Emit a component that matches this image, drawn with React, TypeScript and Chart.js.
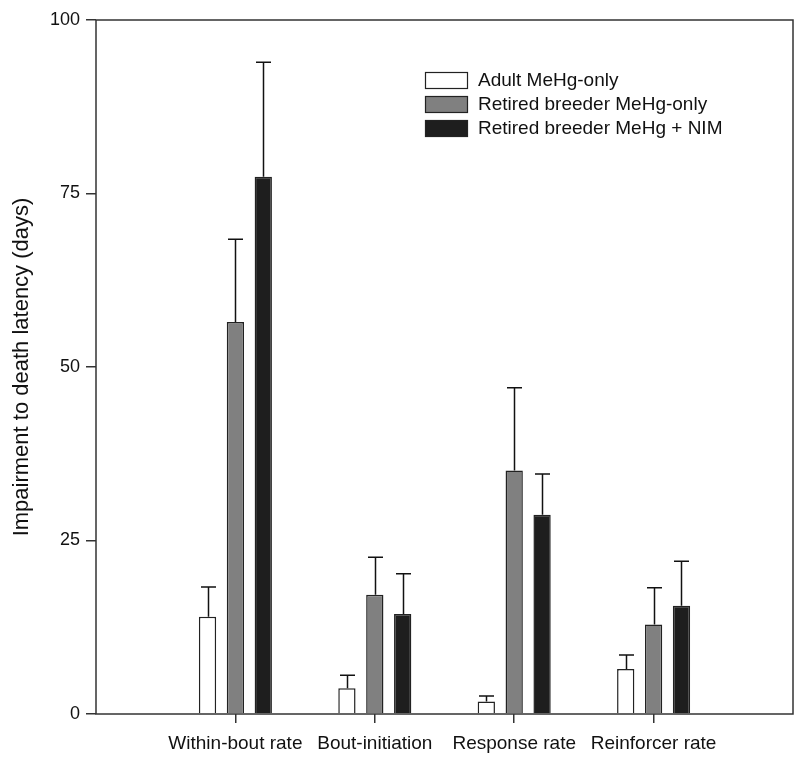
import React, { useEffect, useRef } from "react";
import { Chart, registerables } from "chart.js";

Chart.register(...registerables);

const categories = ["Within-bout rate", "Bout-initiation", "Response rate", "Reinforcer rate"];
const seriesNames = ["Adult MeHg-only", "Retired breeder MeHg-only", "Retired breeder MeHg + NIM"];
const adultMeans = [14.0, 3.7, 1.8, 6.5];
const adultErr = [4.3, 1.9, 0.8, 2.0];
const breederMeans = [56.5, 17.2, 35.1, 12.9];
const breederErr = [11.9, 5.4, 11.9, 5.3];
const nimMeans = [77.4, 14.4, 28.7, 15.6];
const nimErr = [16.5, 5.8, 5.9, 6.4];
const yTicks = [0, 25, 50, 75, 100];

const fills = ["#ffffff", "#808080", "#1e1e1e"];
const FONT = "'Liberation Sans', Arial, sans-serif";
const AXIS = "#333333";

const errorBarPlugin = {
  id: "errorBars",
  afterDatasetsDraw(chart: any) {
    const ctx = chart.ctx;
    const yScale = chart.scales.y;
    const errs = [adultErr, breederErr, nimErr];
    ctx.save();
    ctx.strokeStyle = "#111";
    ctx.lineWidth = 1.5;
    chart.data.datasets.forEach((ds: any, di: number) => {
      const meta = chart.getDatasetMeta(di);
      meta.data.forEach((el: any, i: number) => {
        const v = ds.data[i].y;
        const top = yScale.getPixelForValue(v + errs[di][i]);
        const x = Math.round(el.x) + 0.5;
        const cap = 7.5;
        ctx.beginPath();
        ctx.moveTo(x, el.y);
        ctx.lineTo(x, top);
        ctx.moveTo(x - cap, top);
        ctx.lineTo(x + cap, top);
        ctx.stroke();
      });
    });
    ctx.restore();
  },
};

const framePlugin = {
  id: "frame",
  afterDraw(chart: any) {
    const { ctx, chartArea: a } = chart;
    ctx.save();
    ctx.strokeStyle = AXIS;
    ctx.lineWidth = 1.5;
    ctx.strokeRect(a.left, a.top, a.right - a.left, a.bottom - a.top);
    // legend
    const lx = 425;
    const ly = [72, 96, 120];
    ctx.font = `19px ${FONT}`;
    ctx.textBaseline = "middle";
    ctx.textAlign = "left";
    seriesNames.forEach((name, i) => {
      ctx.fillStyle = fills[i];
      ctx.fillRect(lx, ly[i], 42, 16);
      ctx.strokeStyle = "#222";
      ctx.lineWidth = 1.2;
      ctx.strokeRect(lx + 0.5, ly[i] + 0.5, 42, 16);
      ctx.fillStyle = "#111";
      ctx.fillText(name, lx + 53, ly[i] + 8.5);
    });
    ctx.restore();
  },
};

export default function App() {
  const ref = useRef<HTMLCanvasElement>(null);
  useEffect(() => {
    if (!ref.current) return;
    const mk = (means: number[]) => means.map((v, i) => ({ x: i + 1, y: v }));
    const chart = new Chart(ref.current, {
      type: "bar",
      data: {
        datasets: [adultMeans, breederMeans, nimMeans].map((m, i) => ({
          label: seriesNames[i],
          data: mk(m),
          backgroundColor: fills[i],
          borderColor: "#222222",
          borderWidth: 1.5,
          barPercentage: 0.62,
          categoryPercentage: 0.6,
        })),
      },
      options: {
        animation: false,
        responsive: false,
        layout: { padding: { top: 20, right: 7, left: 0, bottom: 0 } },
        plugins: { legend: { display: false }, tooltip: { enabled: false } },
        scales: {
          x: {
            type: "linear",
            min: 0,
            max: 5,
            offset: false,
            afterBuildTicks: (s: any) => {
              s.ticks = [1, 2, 3, 4].map((v) => ({ value: v }));
            },
            afterFit: (s: any) => {
              s.height = 54;
            },
            border: { display: false },
            grid: { offset: false, drawOnChartArea: false, tickLength: 9, tickColor: AXIS, lineWidth: 1.5 },
            ticks: {
              autoSkip: false,
              maxRotation: 0,
              padding: 9,
              color: "#111",
              font: { size: 19, family: FONT },
              callback: (v: any) => categories[Number(v) - 1] ?? "",
            },
          },
          y: {
            min: 0,
            max: 100,
            afterBuildTicks: (s: any) => {
              s.ticks = yTicks.map((v) => ({ value: v }));
            },
            afterFit: (s: any) => {
              s.width = 96;
            },
            border: { display: false },
            grid: { drawOnChartArea: false, tickLength: 10, tickColor: AXIS, lineWidth: 1.5 },
            ticks: { padding: 6, color: "#111", font: { size: 18, family: FONT } },
            title: {
              display: true,
              text: "Impairment to death latency (days)",
              color: "#111",
              font: { size: 22, family: FONT },
              padding: { top: 9, bottom: 0 },
            },
          },
        },
      },
      plugins: [errorBarPlugin, framePlugin],
    });
    return () => chart.destroy();
  }, []);
  return (
    <div style={{ position: "absolute", left: 0, top: 0, width: 800, height: 768, background: "#fff" }}>
      <canvas ref={ref} width={800} height={768} />
    </div>
  );
}
